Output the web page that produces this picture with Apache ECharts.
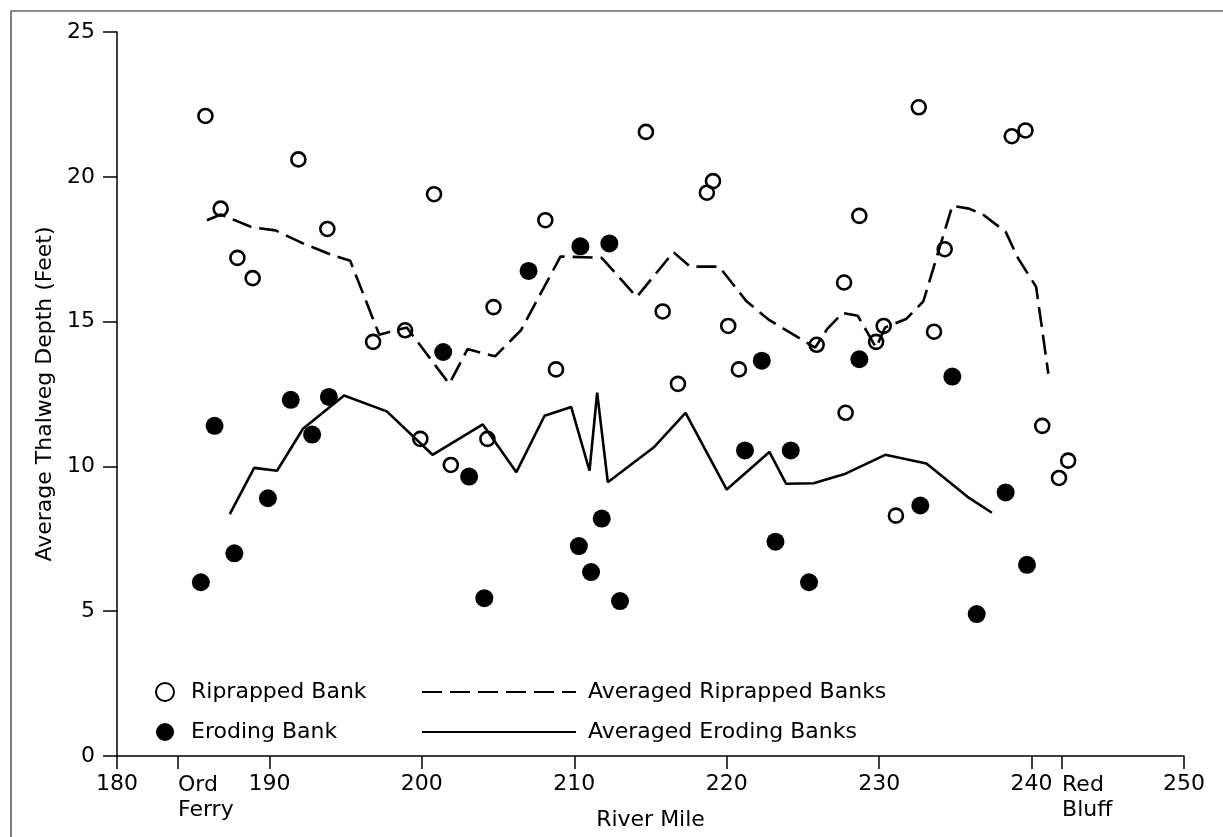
<!DOCTYPE html>
<html>
<head>
<meta charset="utf-8">
<title>Average Thalweg Depth</title>
<script src="https://cdn.jsdelivr.net/npm/echarts@6/dist/echarts.min.js"></script>
<style>
  html, body { margin: 0; padding: 0; background: #fff; }
  #chart { width: 1223px; height: 837px; }
</style>
</head>
<body>
<div id="chart"></div>
<script>
// river mile / depth (feet)
var riprapped = [
  [185.8, 22.1], [186.8, 18.9], [187.9, 17.2], [188.9, 16.5], [191.9, 20.6],
  [193.8, 18.2], [196.8, 14.3], [198.9, 14.7], [199.9, 10.95], [200.8, 19.4],
  [201.9, 10.05], [204.3, 10.95], [204.7, 15.5], [208.1, 18.5], [208.8, 13.35],
  [214.7, 21.55], [215.8, 15.35], [216.8, 12.85], [218.7, 19.45], [219.1, 19.85],
  [220.1, 14.85], [220.8, 13.35], [225.9, 14.2], [227.7, 16.35], [227.8, 11.85],
  [228.7, 18.65], [229.8, 14.3], [230.3, 14.85], [231.1, 8.3], [232.6, 22.4],
  [233.6, 14.65], [234.3, 17.5], [238.7, 21.4], [239.6, 21.6], [240.7, 11.4],
  [241.8, 9.6], [242.4, 10.2]
]
var eroding = [
  [185.5, 6.0], [186.4, 11.4], [187.7, 7.0], [189.9, 8.9], [191.4, 12.3],
  [192.8, 11.1], [193.9, 12.4], [201.4, 13.95], [203.1, 9.65], [204.1, 5.45],
  [207.0, 16.75], [210.3, 7.25], [210.4, 17.6], [211.1, 6.35], [211.8, 8.2],
  [212.3, 17.7], [213.0, 5.35], [221.2, 10.55], [222.3, 13.65], [223.2, 7.4],
  [224.2, 10.55], [225.4, 6.0], [228.7, 13.7], [232.7, 8.65], [234.8, 13.1],
  [236.4, 4.9], [238.3, 9.1], [239.7, 6.6]
]
var avgRiprapped = [
  [185.9, 18.5], [186.8, 18.7], [188.9, 18.25], [190.4, 18.15], [192.2, 17.7],
  [194.1, 17.3], [195.3, 17.1], [197.2, 14.55], [199.0, 14.8], [201.8, 12.85],
  [203.0, 14.05], [204.8, 13.8], [206.5, 14.7], [209.1, 17.25], [211.8, 17.2],
  [214.1, 15.85], [216.5, 17.4], [217.6, 16.9], [219.5, 16.9], [221.3, 15.7],
  [222.8, 15.05], [225.8, 14.1], [226.6, 14.75], [227.6, 15.3], [228.6, 15.2],
  [229.8, 14.1], [230.4, 14.8], [231.8, 15.1], [232.9, 15.7], [234.8, 19.0],
  [235.9, 18.9], [236.8, 18.7], [238.3, 18.1], [239.1, 17.2], [240.3, 16.2],
  [241.1, 13.2]
]
var avgEroding = [
  [187.4, 8.35], [189.0, 9.95], [190.5, 9.85], [192.2, 11.3], [194.9, 12.45],
  [197.7, 11.9], [200.7, 10.4], [204.0, 11.45], [206.2, 9.8], [208.05, 11.75],
  [209.8, 12.05], [211.0, 9.85], [211.5, 12.55], [212.2, 9.45], [215.2, 10.65],
  [217.3, 11.85], [220.0, 9.2], [222.8, 10.5], [223.9, 9.4], [225.7, 9.42],
  [227.8, 9.75], [230.4, 10.4], [233.1, 10.1], [235.8, 8.95], [237.4, 8.4]
]
var mileTicks = [180, 190, 200, 210, 220, 230, 240, 250]
var placeMiles = [184, 242]
var placeNames = ['Ord\nFerry', 'Red\nBluff']
var depthTicks = [0, 5, 10, 15, 20, 25]

var font = 'DejaVu Sans'
var fs = 22

var chart = echarts.init(document.getElementById('chart'))
var option = {
  animation: false,
  backgroundColor: '#fff',
  textStyle: { fontFamily: font, color: '#000' },
  graphic: [
    // scanned page frame
    { type: 'rect', shape: { x: 11, y: 11, width: 1300, height: 900 },
      style: { fill: 'none', stroke: '#222', lineWidth: 1.2 } }
  ],
  grid: { left: 117, right: 39, top: 32, bottom: 81 },
  legend: [
    {
      orient: 'vertical', left: 150, top: 676, itemGap: 18,
      itemWidth: 42, itemHeight: 18,
      textStyle: { fontFamily: font, fontSize: fs, color: '#000' },
      data: [{ name: 'Riprapped Bank', icon: 'circle' }, { name: 'Eroding Bank', icon: 'circle' }]
    },
    {
      orient: 'vertical', left: 416, top: 676, itemGap: 18,
      itemWidth: 154, itemHeight: 17,
      itemStyle: { opacity: 0 },
      textStyle: { fontFamily: font, fontSize: fs, color: '#000', padding: [0, 0, 0, 7] },
      data: ['Averaged Riprapped Banks', 'Averaged Eroding Banks']
    }
  ],
  xAxis: [
    {
      type: 'value', min: 180, max: 250, interval: 10,
      name: 'River Mile', nameLocation: 'middle', nameGap: 53,
      nameTextStyle: { fontFamily: font, fontSize: fs, color: '#000' },
      splitLine: { show: false },
      axisLine: { show: true, lineStyle: { color: '#000', width: 1.5 } },
      axisTick: { show: true, length: 13, customValues: mileTicks, lineStyle: { color: '#000', width: 1.5 } },
      axisLabel: { margin: 17, fontSize: fs, color: '#000', fontFamily: font, customValues: mileTicks }
    },
    {
      type: 'value', min: 180, max: 250, position: 'bottom', offset: 0,
      splitLine: { show: false },
      axisLine: { show: false },
      axisTick: { show: true, length: 13, customValues: placeMiles, lineStyle: { color: '#000', width: 1.5 } },
      axisLabel: {
        margin: 17, fontSize: fs, color: '#000', fontFamily: font, align: 'left', lineHeight: 25,
        customValues: placeMiles,
        formatter: function (v) { return placeNames[placeMiles.indexOf(v)] || '' }
      }
    }
  ],
  yAxis: {
    type: 'value', min: 0, max: 25, interval: 5,
    name: 'Average Thalweg Depth (Feet)', nameLocation: 'middle', nameGap: 56,
    nameTextStyle: { fontFamily: font, fontSize: fs, color: '#000' },
    splitLine: { show: false },
    axisLine: { show: true, lineStyle: { color: '#000', width: 1.5 } },
    axisTick: { show: true, length: 14, customValues: depthTicks, lineStyle: { color: '#000', width: 1.5 } },
    axisLabel: { margin: 22, fontSize: fs, color: '#000', fontFamily: font, customValues: depthTicks }
  },
  series: [
    {
      name: 'Averaged Riprapped Banks', type: 'line', data: avgRiprapped,
      symbol: 'none', z: 2,
      lineStyle: { color: '#000', width: 2.6, type: [20, 8] },
      itemStyle: { color: '#000' }
    },
    {
      name: 'Averaged Eroding Banks', type: 'line', data: avgEroding,
      symbol: 'none', z: 2,
      lineStyle: { color: '#000', width: 2.6 },
      itemStyle: { color: '#000' }
    },
    {
      name: 'Riprapped Bank', type: 'scatter', data: riprapped, z: 3,
      symbol: 'circle', symbolSize: 14,
      itemStyle: { color: 'rgba(255,255,255,0)', borderColor: '#000', borderWidth: 2.6, opacity: 1 }
    },
    {
      name: 'Eroding Bank', type: 'scatter', data: eroding, z: 3,
      symbol: 'circle', symbolSize: 18,
      itemStyle: { color: '#000', opacity: 1 }
    }
  ]
}
chart.setOption(option)
</script>
</body>
</html>
